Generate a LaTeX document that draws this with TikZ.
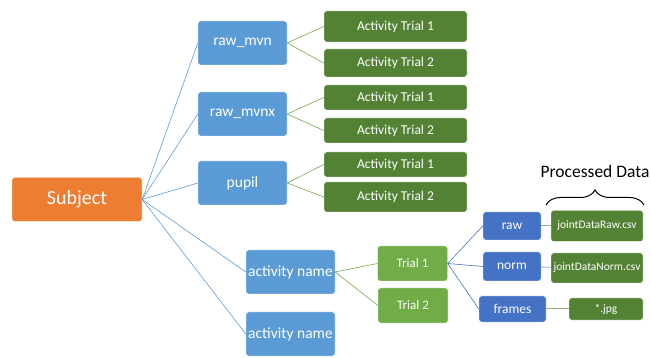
\documentclass[tikz,border=0pt]{standalone}
\usepackage{fontspec}
\setmainfont{Carlito}
\usepackage{xcolor}
\usetikzlibrary{positioning,calc,decorations.pathreplacing}
\definecolor{orng}{HTML}{ED7D31}
\definecolor{lblue}{HTML}{5B9BD5}
\definecolor{dblue}{HTML}{4472C4}
\definecolor{dgreen}{HTML}{548235}
\definecolor{lgreen}{HTML}{70AD47}

\begin{document}
\begin{tikzpicture}[x=1pt, y=-1pt, font=\fontsize{13.5}{16}\selectfont]
  \tikzset{b/.style={draw=white, thin, rounded corners=2.5pt, text=white, inner sep=0pt},
    subj/.style={b, fill=orng, minimum width=130pt, minimum height=44pt, font=\fontsize{20}{24}\selectfont},
    fold/.style={b, fill=lblue, minimum width=89pt, minimum height=44pt, font=\fontsize{15.5}{18}\selectfont},
    act/.style={b, fill=dgreen, minimum width=143pt, minimum height=28pt},
    tri/.style={b, fill=lgreen, minimum width=70pt, minimum height=35pt, font=\fontsize{13}{15}\selectfont},
    sub/.style={b, fill=dblue, minimum width=58pt, minimum height=28pt, font=\fontsize{13.5}{16}\selectfont},
    fil/.style={b, fill=dgreen, minimum width=92pt, minimum height=31pt, font=\fontsize{11.5}{14}\selectfont},
    bl/.style={draw=lblue, line width=0.6pt}, gl/.style={draw=lgreen, line width=0.6pt}}
  \useasboundingbox (0,0) rectangle (651,358);
  % tree of folders
  \node[subj] (subject) at (77,199.5) {Subject};
  \node[fold] (mvn) at (242.5,43) {raw\_mvn};
  \node[fold] (mvnx) at (242.5,114) {raw\_mvnx};
  \node[fold] (pupil) at (242.5,183) {pupil};
  \node[fold] (actA) at (290.5,272) {activity name};
  \node[fold] (actB) at (290.5,334) {activity name};
  \node[act, minimum height=31pt] (mvn1) at (395.5,26.5) {Activity Trial 1};
  \node[act] (mvn2) at (395.5,63) {Activity Trial 2};
  \node[act, minimum height=25pt] (mvnx1) at (395.5,97.5) {Activity Trial 1};
  \node[act, minimum height=25pt] (mvnx2) at (395.5,130.5) {Activity Trial 2};
  \node[act, minimum height=25pt] (pup1) at (395.5,164.5) {Activity Trial 1};
  \node[act, minimum height=30pt] (pup2) at (395.5,197) {Activity Trial 2};
  \node[tri] (trA) at (412.5,263.5) {Trial 1};
  \node[tri] (trB) at (413,305.5) {Trial 2};
  % processed data of one trial
  \node[sub] (raw) at (512,226) {raw};
  \node[sub, minimum height=29pt] (norm) at (512,266.5) {norm};
  \node[sub, minimum width=67pt, minimum height=26pt] (frames) at (512.5,309) {frames};
  \node[fil] (jraw) at (597,226) {jointDataRaw.csv};
  \node[fil, minimum height=30pt] (jnorm) at (597,268) {jointDataNorm.csv};
  \node[fil, minimum width=74pt, minimum height=22pt] (jpg) at (606,309) {*.jpg};
  \draw[decorate, decoration={brace, amplitude=15pt}, line width=1pt] (546,205) -- (644,205)
    node[midway, above=27pt, inner sep=0pt, font=\fontsize{17.5}{21}\selectfont] (proc) {Processed Data};
  % connectors
  \draw[bl] (subject.east) -- (mvn.west);
  \draw[bl] (subject.east) -- (mvnx.west);
  \draw[bl] (subject.east) -- (pupil.west);
  \draw[bl] (subject.east) -- (actA.west);
  \draw[bl] (subject.east) -- (actB.west);
  \draw[gl] (mvn.east) -- (mvn1.west); \draw[gl] (mvn.east) -- (mvn2.west);
  \draw[gl] (mvnx.east) -- (mvnx1.west); \draw[gl] (mvnx.east) -- (mvnx2.west);
  \draw[gl] (pupil.east) -- (pup1.west); \draw[gl] (pupil.east) -- (pup2.west);
  \draw[gl] (actA.east) -- (trA.west); \draw[gl] (actA.east) -- (trB.west);
  \draw[bl, draw=dblue] (trA.east) -- (raw.west);
  \draw[bl, draw=dblue] (trA.east) -- (norm.west);
  \draw[bl, draw=dblue] (trA.east) -- (frames.west);
  \draw[gl, draw=lgreen!60!gray!80, line width=1pt] (raw) -- (jraw);
  \draw[bl, draw=dblue] (norm) -- (jnorm);
  \draw[gl, draw=lgreen!60!gray!80, line width=1pt] (frames) -- (jpg);
\end{tikzpicture}
\end{document}
